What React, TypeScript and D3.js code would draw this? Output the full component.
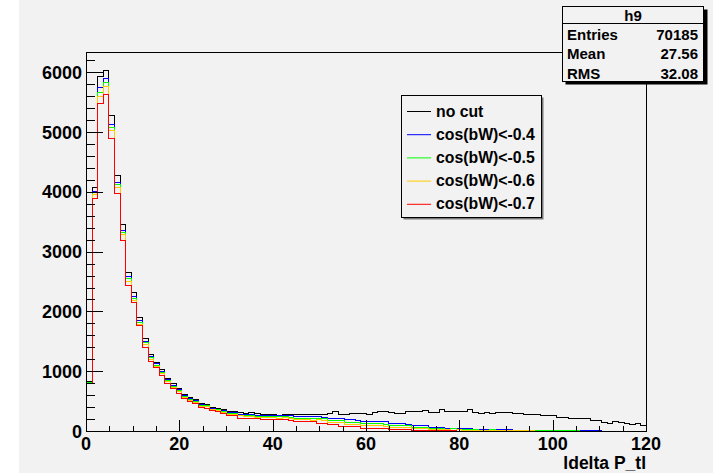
import React from "react";
import * as d3 from "d3";

const binEdgesMin = 0;
const binEdgesMax = 120;
const nBins = 100;

const noCut = [830,4090,5940,6040,5280,4280,3470,2660,2320,1910,1550,1290,1160,1030,890,800,715,620,575,535,465,460,405,390,365,330,335,310,305,310,300,280,285,280,275,280,285,290,280,285,290,285,290,305,340,280,285,300,295,300,280,315,335,330,315,295,300,335,330,335,345,315,310,375,335,330,340,330,360,315,305,310,305,320,325,310,300,295,290,285,280,270,265,270,235,230,225,215,210,215,190,180,145,140,160,155,130,125,140,100];
const cut04 = [820,4020,5760,5900,5130,4170,3370,2590,2260,1860,1510,1260,1135,1010,870,775,695,600,555,515,445,440,385,370,345,310,310,290,285,285,270,265,268,265,262,268,260,255,250,252,248,250,240,222,225,220,195,198,192,168,170,168,172,165,130,128,132,125,100,102,98,75,72,70,58,56,55,57,54,35,33,32,34,30,32,30,25,22,24,20,18,20,17,15,16,14,12,13,11,10,9,10,8,7,8,6,6,5,5,4];
const cut05 = [815,3990,5675,5840,5080,4130,3335,2555,2225,1825,1490,1237,1112,988,855,760,680,585,540,505,432,428,375,360,335,298,295,275,268,268,252,248,250,248,245,250,240,225,222,225,220,222,215,185,188,182,152,150,148,128,132,130,128,125,105,102,106,100,72,74,70,52,50,48,40,42,38,40,39,26,25,24,26,22,23,21,18,16,17,14,13,14,12,11,11,10,9,9,8,7,7,7,6,5,6,5,4,4,3,3];
const cut06 = [810,3960,5600,5770,5030,4085,3295,2515,2190,1790,1460,1212,1087,962,835,740,662,568,522,490,418,414,365,350,322,285,280,262,255,252,232,230,232,228,225,230,220,198,195,196,192,194,188,150,152,148,124,122,120,95,96,94,97,92,73,72,74,70,50,52,48,36,35,34,26,25,27,24,25,16,15,15,16,14,14,13,11,10,10,9,8,8,7,7,6,6,5,5,5,4,4,4,3,3,3,3,2,2,2,2];
const cut07 = [800,3900,5480,5630,4895,3975,3195,2440,2160,1770,1410,1176,1075,936,800,715,640,548,502,473,396,393,351,334,296,268,262,225,222,224,220,196,194,195,196,193,192,174,172,173,170,140,138,112,110,84,82,83,80,57,56,46,45,44,30,28,29,27,18,17,15,12,12,11,9,9,8,8,7,6,6,5,5,5,4,4,4,3,3,3,3,2,2,2,2,2,2,1,1,1,1,1,1,1,1,0,0,0,0,0];

const seriesNames = ["no cut", "cos(bW)<-0.4", "cos(bW)<-0.5", "cos(bW)<-0.6", "cos(bW)<-0.7"];
const seriesColors = ["#000000", "#0000ff", "#00ff00", "#ffcc00", "#ff0000"];
const seriesData = [noCut, cut04, cut05, cut06, cut07];

const yMajorTicks = [0, 1000, 2000, 3000, 4000, 5000, 6000];
const xMajorTicks = [0, 20, 40, 60, 80, 100, 120];

const statsTitle = "h9";
const statsLabels = ["Entries", "Mean", "RMS"];
const statsValues = ["70185", "27.56", "32.08"];
const xTitle = "ldelta P_tl";

const W = 713;
const H = 473;
const FL = 86, FR = 646, FT = 52, FB = 431;
const FONT = "'Liberation Sans', Arial, Helvetica, sans-serif";

export default function App() {
  const x = d3.scaleLinear().domain([binEdgesMin, binEdgesMax]).range([FL, FR]);
  const y = d3.scaleLinear().domain([0, 6340]).range([FB, FT]);
  const bw = (binEdgesMax - binEdgesMin) / nBins;

  const line = d3.line<[number, number]>()
    .x((d) => Math.round(x(d[0])) + 0.5)
    .y((d) => Math.round(y(d[1])) + 0.5);

  const histPath = (vals: number[]) => {
    const pts: [number, number][] = [[binEdgesMin, 0]];
    vals.forEach((v, i) => {
      pts.push([binEdgesMin + i * bw, v]);
      pts.push([binEdgesMin + (i + 1) * bw, v]);
    });
    pts.push([binEdgesMax, 0]);
    return line(pts) || "";
  };

  const yMinor = d3.range(0, 6201, 200);
  const xMinor = d3.range(0, 121, 5);
  const px = (v: number) => Math.round(v) + 0.5;

  return (
    <svg width={W} height={H} style={{ position: "absolute", left: 0, top: 0 }} fontFamily={FONT}>
      <rect x={0} y={0} width={W} height={H} fill="#ffffff" />
      <rect x={19} y={0} width={W - 19} height={H} fill="#f2f2f2" />
      <defs>
        <clipPath id="frameClip">
          <rect x={FL} y={FT} width={FR - FL + 1} height={FB - FT + 1} />
        </clipPath>
      </defs>

      <g clipPath="url(#frameClip)">
        {seriesData.map((vals, i) => (
          <path key={i} d={histPath(vals)} fill="none" stroke={seriesColors[i]} strokeWidth={1} shapeRendering="crispEdges" />
        ))}
      </g>

      <rect x={FL + 0.5} y={FT + 0.5} width={FR - FL} height={FB - FT} fill="none" stroke="#000" strokeWidth={1} shapeRendering="crispEdges" />

      <g shapeRendering="crispEdges" stroke="#000" strokeWidth={1}>
        {yMinor.map((v) => {
          const major = v % 1000 === 0;
          return <line key={"ym" + v} x1={FL} x2={FL + (major ? 17 : 8.5)} y1={px(y(v))} y2={px(y(v))} />;
        })}
        {xMinor.map((v) => {
          const major = v % 20 === 0;
          return <line key={"xm" + v} x1={px(x(v))} x2={px(x(v))} y1={FB} y2={FB - (major ? 11.5 : 5.5)} />;
        })}
      </g>

      {yMajorTicks.map((v) => (
        <text key={"yl" + v} x={82} y={y(v) + 6.5} textAnchor="end" fontSize={18} fontWeight="bold" fill="#000">
          {v}
        </text>
      ))}
      {xMajorTicks.map((v) => (
        <text key={"xl" + v} x={x(v)} y={450} textAnchor="middle" fontSize={18} fontWeight="bold" fill="#000">
          {v}
        </text>
      ))}
      <text x={FR} y={469} textAnchor="end" fontSize={17.5} fontWeight="bold" fill="#000">{xTitle}</text>

      <g>
        <rect x={403.5} y={97.5} width={140} height={122} fill="#777" />
        <rect x={401.5} y={95.5} width={140} height={122} fill="#f2f2f2" stroke="#000" strokeWidth={1} />
        {seriesNames.map((n, i) => {
          const yy = 111.5 + i * 23.2;
          return (
            <g key={n}>
              <line x1={407} x2={431} y1={yy} y2={yy} stroke={seriesColors[i]} strokeWidth={1} />
              <text x={436} y={yy + 5} fontSize={15.8} fontWeight="bold" fill="#000">{n}</text>
            </g>
          );
        })}
      </g>

      <g>
        <rect x={565.5} y={9.5} width={142} height={75} fill="#000" />
        <rect x={562.5} y={6.5} width={141} height={75} fill="#f2f2f2" stroke="#000" strokeWidth={1} />
        <line x1={562.5} x2={703.5} y1={23.5} y2={23.5} stroke="#000" strokeWidth={1} />
        <text x={633} y={20.5} textAnchor="middle" fontSize={15} fontWeight="bold" fill="#000">{statsTitle}</text>
        {statsLabels.map((l, i) => (
          <g key={l}>
            <text x={567} y={39.5 + i * 19.8} fontSize={15} fontWeight="bold" fill="#000">{l}</text>
            <text x={698} y={39.5 + i * 19.8} textAnchor="end" fontSize={15} fontWeight="bold" fill="#000">{statsValues[i]}</text>
          </g>
        ))}
      </g>
    </svg>
  );
}
